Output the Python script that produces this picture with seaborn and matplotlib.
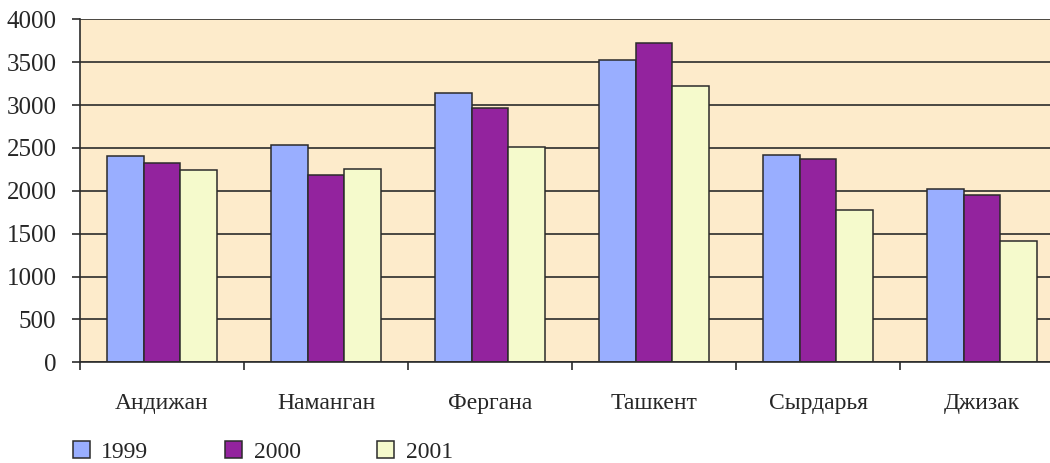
import matplotlib.pyplot as plt
import seaborn as sns
import pandas as pd
import numpy as np

# значения по областям
regions = ['Андижан', 'Наманган', 'Фергана', 'Ташкент', 'Сырдарья', 'Джизак']
years = ['1999', '2000', '2001']
v1999 = [2405, 2535, 3140, 3525, 2420, 2025]
v2000 = [2325, 2190, 2960, 3720, 2375, 1955]
v2001 = [2240, 2250, 2505, 3220, 1780, 1420]
colors = ['#99AEFF', '#93239E', '#F5FACC']

df = pd.DataFrame({
    'region': regions * 3,
    'year': [y for y in years for _ in regions],
    'value': v1999 + v2000 + v2001,
})

sns.set_theme(style='white')
plt.rcParams['font.family'] = ['Liberation Serif', 'DejaVu Serif']

fig = plt.figure(figsize=(10.5, 4.63), dpi=100)
# область графика уходит за правый край рисунка, как в оригинале
ax = fig.add_axes([80 / 1050, 100.7 / 463, 984 / 1050, 343 / 463])
ax.set_facecolor('#FDEBCB')

sns.barplot(data=df, x='region', y='value', hue='year', order=regions,
            hue_order=years, palette=colors, width=0.665,
            edgecolor='#2b2b2b', linewidth=1.1, saturation=1, ax=ax,
            legend=True)

ax.set_xlim(-0.5, len(regions) - 0.5)
ax.set_ylim(0, 4000)
ax.set_yticks(np.arange(0, 4001, 500))
ax.yaxis.grid(True, color='#2b2b2b', linewidth=1.2)
ax.set_axisbelow(True)

# деления на границах категорий, подписи по центру
ax.set_xticks(np.arange(-0.5, len(regions) - 0.4, 1.0))
ax.set_xticklabels([])
ax.set_xticks(np.arange(len(regions)), minor=True)
ax.set_xticklabels(regions, minor=True, fontsize=17)
ax.tick_params(axis='x', which='major', direction='out', length=6,
               width=1.2, color='#2b2b2b', bottom=True)
ax.tick_params(axis='x', which='minor', length=0, pad=22)
ax.tick_params(axis='y', direction='out', length=6, width=1.2,
               color='#2b2b2b', left=True, labelsize=18, pad=11)

for side in ['top', 'right']:
    ax.spines[side].set_visible(False)
for side in ['left', 'bottom']:
    ax.spines[side].set_color('#2b2b2b')
    ax.spines[side].set_linewidth(1.2)

ax.set_xlabel('')
ax.set_ylabel('')

handles, labels = ax.get_legend_handles_labels()
ax.get_legend().remove()
fig.legend(handles, labels, loc='center left',
           bbox_to_anchor=(73 / 1050, 1 - 452 / 463), ncol=3, frameon=False,
           fontsize=17, handlelength=0.7, handleheight=0.7,
           handletextpad=0.5, columnspacing=3.25, borderpad=0,
           borderaxespad=0)

plt.savefig('out.png', dpi=100)
